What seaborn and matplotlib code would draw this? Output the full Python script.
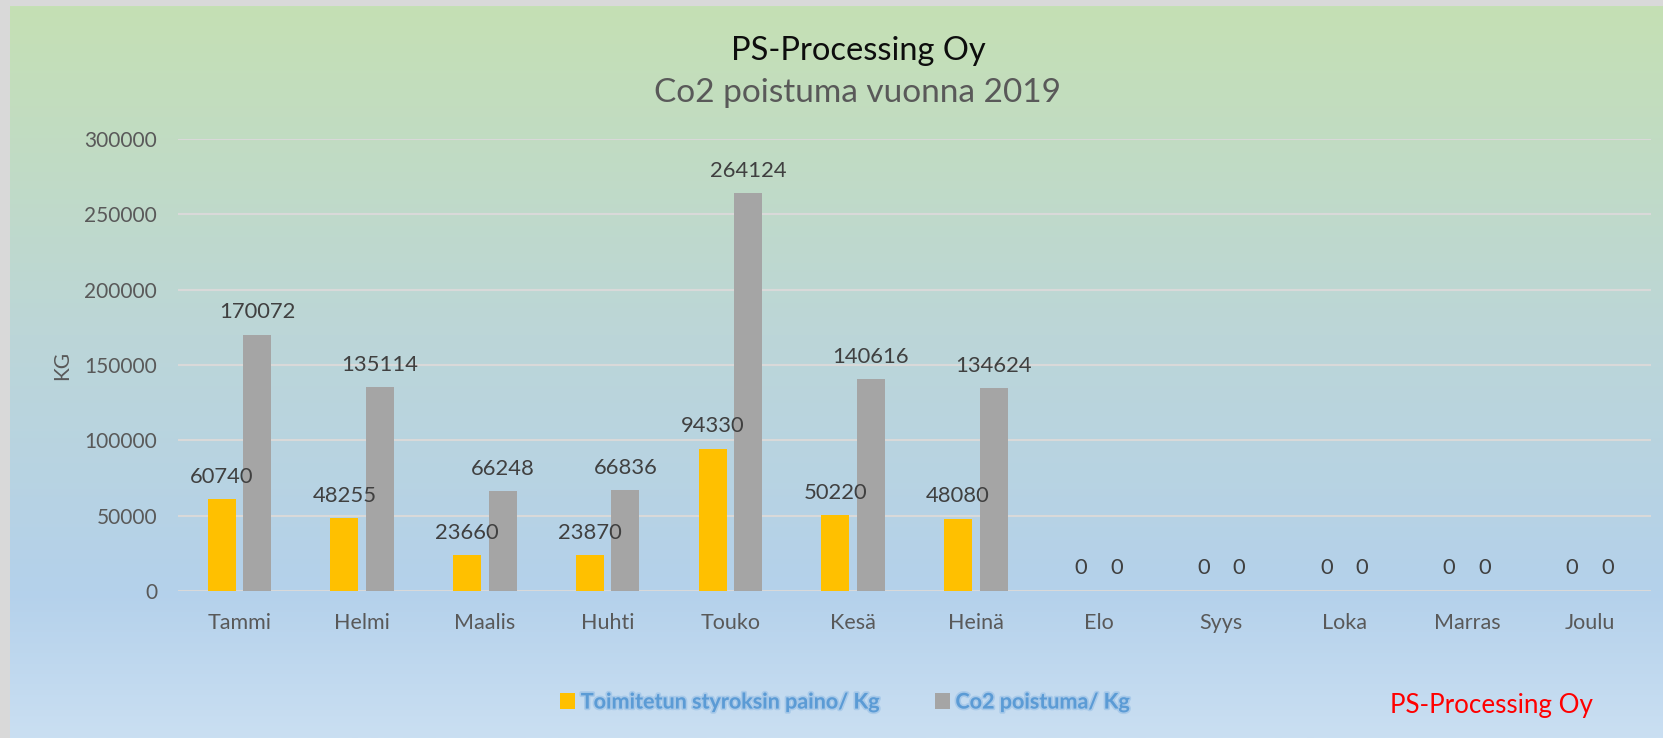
import numpy as np
import pandas as pd
import matplotlib.pyplot as plt
import matplotlib.colors as mcolors
import matplotlib.patheffects as pe
import seaborn as sns

months = ["Tammi", "Helmi", "Maalis", "Huhti", "Touko", "Kesä", "Heinä",
          "Elo", "Syys", "Loka", "Marras", "Joulu"]
styrox_kg = [60740, 48255, 23660, 23870, 94330, 50220, 48080, 0, 0, 0, 0, 0]
co2_kg = [170072, 135114, 66248, 66836, 264124, 140616, 134624, 0, 0, 0, 0, 0]
series_names = ["Toimitetun styroksin paino/ Kg", "Co2 poistuma/ Kg"]

df = pd.DataFrame({
    "Kuukausi": months * 2,
    "Arvo": styrox_kg + co2_kg,
    "Sarja": [series_names[0]] * len(months) + [series_names[1]] * len(months),
})

sns.set_theme(style="white")
plt.rcParams["font.family"] = ["Lato", "DejaVu Sans"]

fig = plt.figure(figsize=(16.63, 7.38), dpi=100)
fig.patch.set_facecolor("#d9d9d9")

# gradient background
bg = fig.add_axes([10 / 1663, 0, 1 - 10 / 1663, 1 - 6 / 738], zorder=-1)
grad_cmap = mcolors.LinearSegmentedColormap.from_list(
    "bg", [(0.0, "#c5e0b4"), (0.45, "#bcd6d8"), (0.8, "#b4d1eb"), (1.0, "#cadff2")])
bg.imshow(np.linspace(0, 1, 256).reshape(-1, 1), aspect="auto", cmap=grad_cmap,
          extent=[0, 1, 1, 0])
bg.set_xlim(0, 1)
bg.set_ylim(1, 0)
bg.set_axis_off()

ax = fig.add_axes([178 / 1663, 1 - 591 / 738, 1473 / 1663, 452 / 738])
ax.set_facecolor("none")

sns.barplot(data=df, x="Kuukausi", y="Arvo", hue="Sarja",
            palette=["#ffc000", "#a5a5a5"], width=0.578, gap=0.211,
            saturation=1, linewidth=0, edgecolor="none", ax=ax, legend=True)

for cont in ax.containers:
    ax.bar_label(cont, fmt="%d", padding=9, fontsize=15.8, color="#404040")

ax.set_ylim(0, 300000)
ax.set_xlim(-0.5, 11.5)
ax.set_yticks(range(0, 300001, 50000))
ax.grid(axis="y", color="#d9d9d9", linewidth=1.5)
ax.set_axisbelow(True)
for s in ax.spines.values():
    s.set_visible(False)
ax.tick_params(axis="y", length=0, pad=15, labelsize=15, labelcolor="#595959")
ax.tick_params(axis="x", length=0, pad=16, labelsize=15.5, labelcolor="#595959")
ax.set_xlabel("")
ax.set_ylabel("KG", fontsize=15, color="#595959")
ax.yaxis.set_label_coords(-0.072, 0.5)

handles, labels = ax.get_legend_handles_labels()
ax.get_legend().remove()
leg = fig.legend(handles, labels, loc="center", bbox_to_anchor=(845 / 1663, 1 - 702 / 738),
                 ncol=2, frameon=False, handlelength=0.7, handleheight=0.7,
                 handletextpad=0.25, columnspacing=2.6,
                 prop={"weight": "bold", "size": 15.5})
for t in leg.get_texts():
    t.set_color("#5b9bd5")
    t.set_path_effects([pe.withStroke(linewidth=2.5, foreground="#7fb0e0", alpha=0.4)])

fig.text(858 / 1663, 1 - 60 / 738, "PS-Processing Oy", ha="center", va="baseline",
         fontsize=23.5, color="#0d0d0d")
fig.text(858 / 1663, 1 - 102 / 738, "Co2 poistuma vuonna 2019", ha="center", va="baseline",
         fontsize=24, color="#595959")
fig.text(1491 / 1663, 1 - 713 / 738, "PS-Processing Oy", ha="center", va="baseline",
         fontsize=18.7, color="#ff0000")

fig.savefig("out.png", dpi=100, facecolor=fig.get_facecolor())
